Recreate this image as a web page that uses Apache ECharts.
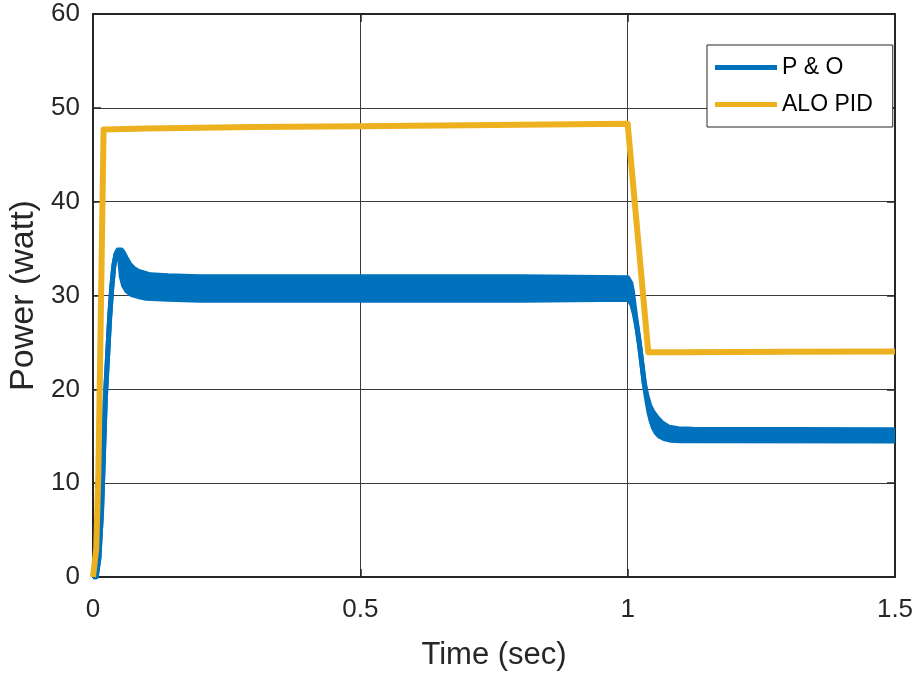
<!DOCTYPE html>
<html>
<head>
<meta charset="utf-8">
<script src="https://cdn.jsdelivr.net/npm/echarts@6/dist/echarts.min.js"></script>
<style>html,body{margin:0;padding:0;background:#fff;}#c{width:915px;height:673px;}</style>
</head>
<body>
<div id="c"></div>
<script>
// X ticks / Y ticks
var xTicks = [0, 0.5, 1, 1.5];
var yTicks = [0, 10, 20, 30, 40, 50, 60];

// P & O upper envelope (time, watt)
var poUpperT = [0, 0.006, 0.011, 0.016, 0.023, 0.031, 0.035, 0.039, 0.043, 0.0465, 0.050, 0.053, 0.057, 0.062, 0.069, 0.076, 0.084, 0.095, 0.107, 0.14, 0.2, 0.5, 0.8, 1.0, 1.003, 1.006, 1.009, 1.012, 1.016, 1.0218, 1.0311, 1.036, 1.0411, 1.047, 1.0549, 1.065, 1.0779, 1.095, 1.122, 1.5];
var poUpperV = [0, 0, 2, 7, 19, 27.5, 30.8, 33.2, 34.4, 34.85, 34.95, 34.85, 34.55, 34.0, 33.3, 32.9, 32.6, 32.4, 32.2, 32.1, 32.0, 32.0, 32.0, 31.9, 31.8, 31.3, 30.4, 29.0, 27.3, 24.94, 20.7, 19.3, 18.3, 17.6, 17.0, 16.4, 15.95, 15.8, 15.75, 15.7];

// P & O lower envelope (time, watt)
var poLowerT = [0, 0.006, 0.011, 0.016, 0.023, 0.031, 0.035, 0.039, 0.043, 0.0465, 0.0505, 0.053, 0.057, 0.063, 0.072, 0.084, 0.1, 0.14, 0.2, 0.5, 0.8, 1.0, 1.004, 1.008, 1.0122, 1.017, 1.0218, 1.031, 1.036, 1.0401, 1.044, 1.0483, 1.053, 1.059, 1.068, 1.0797, 1.1, 1.122, 1.5];
var poLowerV = [0, 0, 2, 7, 19, 27.5, 30.8, 33.2, 34.4, 34.7, 33.5, 32.0, 31.1, 30.5, 30.1, 29.9, 29.7, 29.6, 29.5, 29.5, 29.5, 29.6, 29.4, 29.0, 28.1, 26.7, 24.9, 20.6, 18.8, 17.5, 16.6, 15.9, 15.4, 15.03, 14.75, 14.58, 14.53, 14.52, 14.5];

// ALO PID (time, watt)
var aloT = [0, 0.006, 0.01, 0.0145, 0.0198, 0.1, 0.3, 0.5, 0.7, 0.9, 1.0, 1.0385, 1.1, 1.3, 1.5];
var aloV = [0, 3, 11, 27.5, 47.7, 47.8, 47.95, 48.05, 48.15, 48.25, 48.3, 23.95, 23.95, 24.0, 24.02];

var BLUE = '#0072BD', YELLOW = '#EDB120', AX = '#262626';

function zip(t, v) { return t.map(function (x, i) { return [x, v[i]]; }); }

var chart = echarts.init(document.getElementById('c'));
var FONT = 'Liberation Sans, Arial, sans-serif';

var baseAxis = {
  axisLine: { show: true, onZero: false, lineStyle: { color: AX, width: 2 } },
  axisTick: { show: true, inside: true, length: 8, lineStyle: { color: AX, width: 1.5 } }
};

chart.setOption({
  animation: false,
  backgroundColor: '#fff',
  grid: { left: 93, right: 20, top: 14, bottom: 96, containLabel: false, outerBoundsMode: 'none' },
  legend: {
    orient: 'vertical',
    left: 707, top: 45,
    padding: [10, 20, 10, 8],
    itemGap: 12,
    itemWidth: 62, itemHeight: 5,
    backgroundColor: '#fff',
    borderColor: AX, borderWidth: 1,
    textStyle: { fontFamily: FONT, fontSize: 23, color: '#000', lineHeight: 25 },
    data: [
      { name: 'P & O', icon: 'rect', itemStyle: { color: BLUE } },
      { name: 'ALO PID', icon: 'rect', itemStyle: { color: YELLOW } }
    ]
  },
  xAxis: [
    Object.assign({}, baseAxis, {
      type: 'value', min: xTicks[0], max: xTicks[xTicks.length - 1], interval: 0.5,
      name: 'Time (sec)', nameLocation: 'middle', nameGap: 63,
      nameTextStyle: { fontFamily: FONT, fontSize: 31, color: AX },
      axisLabel: { fontFamily: FONT, fontSize: 26, color: AX, margin: 20 },
      splitLine: { show: true, lineStyle: { color: '#3a3a3a', width: 1 } }
    }),
    Object.assign({}, baseAxis, {
      type: 'value', position: 'top', min: xTicks[0], max: xTicks[xTicks.length - 1], interval: 0.5,
      axisLabel: { show: false }, splitLine: { show: false }
    })
  ],
  yAxis: [
    Object.assign({}, baseAxis, {
      type: 'value', min: yTicks[0], max: yTicks[yTicks.length - 1], interval: 10,
      name: 'Power (watt)', nameLocation: 'middle', nameGap: 49,
      nameTextStyle: { fontFamily: FONT, fontSize: 34, color: AX },
      axisLabel: { fontFamily: FONT, fontSize: 26, color: AX, margin: 13 },
      splitLine: { show: true, lineStyle: { color: '#3a3a3a', width: 1 } }
    }),
    Object.assign({}, baseAxis, {
      type: 'value', position: 'right', min: yTicks[0], max: yTicks[yTicks.length - 1], interval: 10,
      axisLabel: { show: false }, splitLine: { show: false }
    })
  ],
  series: [
    {
      type: 'custom', name: 'P & O band', coordinateSystem: 'cartesian2d',
      data: [[0, 0]], clip: true, silent: true, z: 2,
      renderItem: function (params, api) {
        if (params.dataIndex !== 0) return null;
        var pts = [];
        for (var i = 0; i < poUpperT.length; i++) pts.push(api.coord([poUpperT[i], poUpperV[i]]));
        for (var j = poLowerT.length - 1; j >= 0; j--) pts.push(api.coord([poLowerT[j], poLowerV[j]]));
        return { type: 'polygon', shape: { points: pts }, style: { fill: BLUE } };
      }
    },
    {
      type: 'line', name: 'P & O', data: zip(poUpperT, poUpperV), showSymbol: false, z: 3,
      lineStyle: { color: BLUE, width: 5, join: 'round' }, itemStyle: { color: BLUE }
    },
    {
      type: 'line', name: 'P & O lower', data: zip(poLowerT, poLowerV), showSymbol: false, z: 3,
      lineStyle: { color: BLUE, width: 5, join: 'round' }, itemStyle: { color: BLUE }
    },
    {
      type: 'line', name: 'ALO PID', data: zip(aloT, aloV), showSymbol: false, z: 4,
      lineStyle: { color: YELLOW, width: 6, join: 'round' }, itemStyle: { color: YELLOW }
    }
  ]
});
</script>
</body>
</html>
